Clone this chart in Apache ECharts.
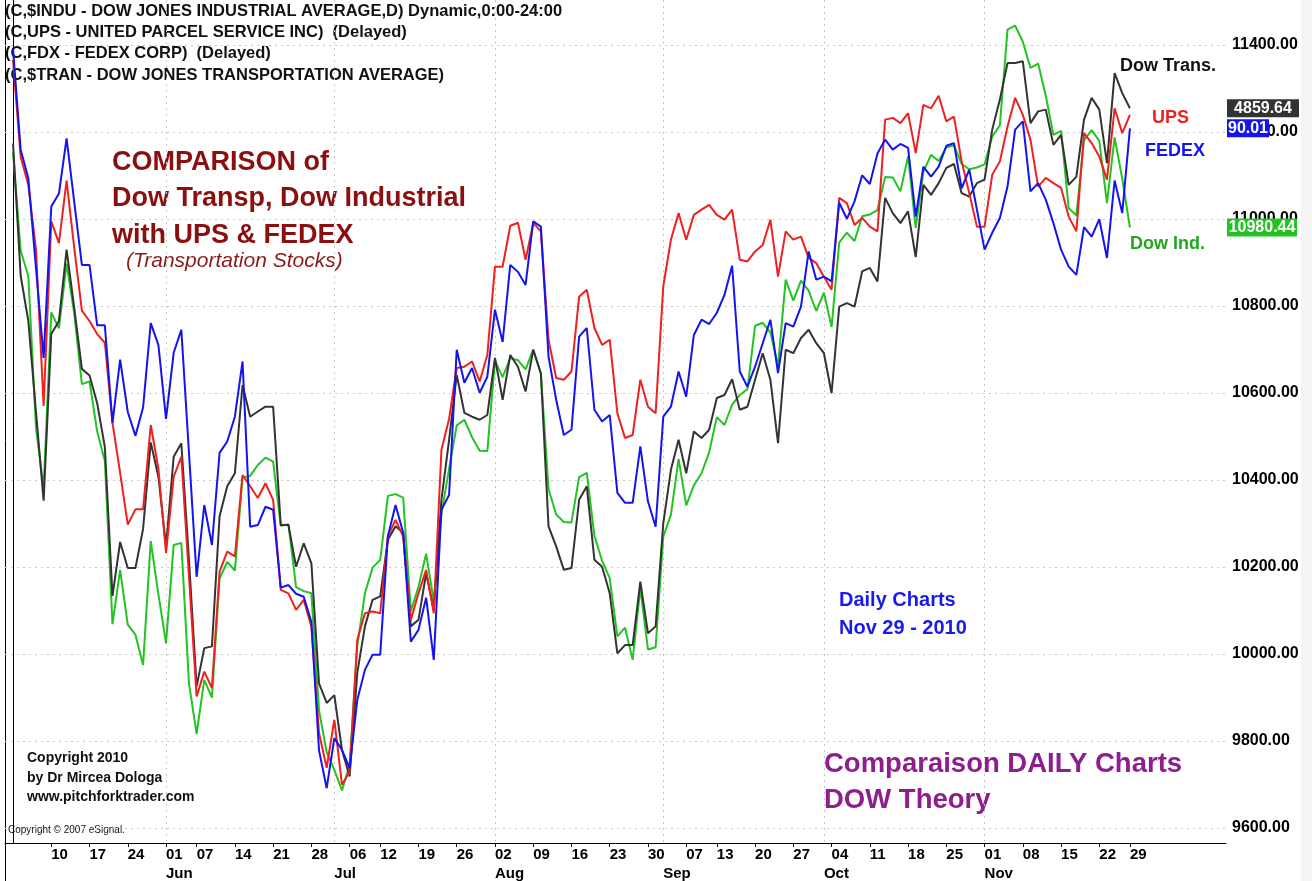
<!DOCTYPE html>
<html>
<head>
<meta charset="utf-8">
<title>Comparison of Dow Transp, Dow Industrial with UPS & FEDEX</title>
<script src="https://cdn.jsdelivr.net/npm/echarts@6/dist/echarts.min.js"></script>
<style>
  html, body { margin: 0; padding: 0; background: #fff; }
  #chart { width: 1312px; height: 881px; }
</style>
</head>
<body>
<div id="chart"></div>
<script>
// trading days 2010 (MM-DD), May 3 .. Nov 29
const dates = [
  "05-03","05-04","05-05","05-06","05-07","05-10","05-11","05-12","05-13","05-14",
  "05-17","05-18","05-19","05-20","05-21","05-24","05-25","05-26","05-27","05-28",
  "06-01","06-02","06-03","06-04","06-07","06-08","06-09","06-10","06-11","06-14",
  "06-15","06-16","06-17","06-18","06-21","06-22","06-23","06-24","06-25","06-28",
  "06-29","06-30","07-01","07-02","07-06","07-07","07-08","07-09","07-12","07-13",
  "07-14","07-15","07-16","07-19","07-20","07-21","07-22","07-23","07-26","07-27",
  "07-28","07-29","07-30","08-02","08-03","08-04","08-05","08-06","08-09","08-10",
  "08-11","08-12","08-13","08-16","08-17","08-18","08-19","08-20","08-23","08-24",
  "08-25","08-26","08-27","08-30","08-31","09-01","09-02","09-03","09-07","09-08",
  "09-09","09-10","09-13","09-14","09-15","09-16","09-17","09-20","09-21","09-22",
  "09-23","09-24","09-27","09-28","09-29","09-30","10-01","10-04","10-05","10-06",
  "10-07","10-08","10-11","10-12","10-13","10-14","10-15","10-18","10-19","10-20",
  "10-21","10-22","10-25","10-26","10-27","10-28","10-29","11-01","11-02","11-03",
  "11-04","11-05","11-08","11-09","11-10","11-11","11-12","11-15","11-16","11-17",
  "11-18","11-19","11-22","11-23","11-24","11-26","11-29"
];

// bottom axis labels
const weekTicks = [
  "05-10","05-17","05-24","06-01","06-07","06-14","06-21","06-28","07-06","07-12",
  "07-19","07-26","08-02","08-09","08-16","08-23","08-30","09-07","09-13","09-20",
  "09-27","10-04","10-11","10-18","10-25","11-01","11-08","11-15","11-22","11-29"
];
const monthTicks = ["06-01","07-01","08-02","09-01","10-01","11-01"];
const monthNames = ["Jun","Jul","Aug","Sep","Oct","Nov"];
const yTicks = [9600, 9800, 10000, 10200, 10400, 10600, 10800, 11000, 11200, 11400];

// all four lines on the Dow Industrial price scale
const dowInd = [
  11152,10927,10868,10520,10380,10785,10748,10897,10783,10620,
  10626,10511,10444,10068,10193,10067,10044,9974,10259,10137,
  10024,10250,10255,9932,9816,9940,9899,10173,10211,10191,
  10405,10409,10434,10451,10442,10294,10298,10153,10144,10139,
  9870,9774,9733,9686,9744,10018,10139,10198,10216,10363,
  10367,10359,10098,10154,10230,10121,10322,10425,10525,10538,
  10498,10467,10466,10674,10636,10680,10675,10654,10699,10644,
  10379,10320,10303,10302,10406,10416,10271,10214,10174,10040,
  10060,9986,10151,10010,10015,10269,10320,10448,10341,10387,
  10415,10463,10544,10526,10573,10595,10608,10754,10761,10739,
  10662,10860,10812,10858,10835,10788,10830,10751,10945,10968,
  10949,11006,11010,11020,11096,11095,11063,11144,10979,11108,
  11147,11133,11164,11169,11126,11114,11118,11125,11189,11215,
  11435,11444,11407,11347,11357,11283,11193,11202,11024,11008,
  11181,11204,11179,11036,11187,11092,10980
];
const dowTrans = [
  11173,10869,10765,10556,10352,10735,10765,10929,10795,10655,
  10640,10576,10476,10133,10257,10197,10197,10287,10486,10407,
  10247,10453,10484,10216,9925,10013,10017,10316,10385,10415,
  10618,10545,10557,10568,10568,10296,10296,10200,10254,10208,
  9932,9887,9905,9779,9718,9956,10063,10124,10132,10262,
  10293,10278,10063,10078,10185,10101,10354,10492,10641,10554,
  10545,10538,10549,10680,10584,10687,10660,10603,10699,10645,
  10293,10247,10193,10197,10354,10385,10216,10200,10139,10001,
  10020,10020,10166,10047,10063,10300,10423,10492,10415,10511,
  10496,10515,10588,10595,10631,10561,10568,10630,10691,10630,
  10484,10699,10691,10726,10745,10714,10691,10599,10798,10806,
  10798,10879,10887,10856,11048,11013,10990,11017,10912,11078,
  11055,11082,11117,11126,11059,11051,11082,11090,11205,11274,
  11358,11358,11362,11220,11247,11251,11170,11193,11078,11097,
  11228,11278,11251,11128,11335,11289,11254
];
const ups = [
  11365,11142,11078,10929,10570,10994,10944,11088,10933,10789,
  10765,10735,10715,10531,10416,10297,10332,10332,10526,10426,
  10232,10407,10453,10178,9902,9959,9921,10189,10235,10224,
  10411,10385,10358,10392,10354,10147,10139,10101,10124,10062,
  9818,9738,9848,9699,9729,10032,10093,10097,10093,10270,
  10308,10270,10078,10139,10193,10093,10469,10540,10657,10660,
  10672,10626,10687,10890,10890,10984,10991,10906,10990,10971,
  10722,10634,10630,10649,10821,10837,10749,10710,10722,10553,
  10496,10503,10630,10568,10553,10845,10952,11013,10952,11009,
  11021,11032,11009,10998,11021,10906,10902,10925,10940,10998,
  10867,10971,10952,10959,10910,10898,10867,10837,11048,11036,
  10986,11002,10982,10971,11228,11232,11220,11243,11151,11262,
  11254,11283,11224,11235,11132,11059,10982,10982,11101,11132,
  11212,11278,11239,11182,11074,11094,11082,11071,11005,10971,
  11197,11174,11143,11090,11254,11197,11239
];
const fdx = [
  11390,11159,11093,10887,10680,11028,11058,11185,11039,10894,
  10894,10755,10755,10531,10676,10556,10501,10566,10760,10710,
  10540,10692,10745,10462,10177,10342,10250,10462,10488,10545,
  10672,10292,10296,10338,10331,10152,10158,10138,10131,10073,
  9778,9691,9806,9779,9737,9894,9963,9998,9998,10270,
  10342,10278,10028,10055,10129,9986,10331,10365,10699,10623,
  10657,10600,10637,10791,10717,10894,10878,10848,10994,10982,
  10683,10584,10503,10515,10729,10749,10561,10534,10549,10370,
  10347,10347,10477,10350,10292,10545,10568,10649,10591,10733,
  10768,10758,10784,10825,10892,10649,10614,10660,10714,10768,
  10645,10760,10752,10798,10925,10860,10867,10856,11037,11000,
  11040,11100,11080,11150,11182,11159,11172,11163,11005,11120,
  11097,11120,11168,11174,11070,11113,11021,10929,10968,11002,
  11074,11205,11224,11063,11082,11044,10990,10929,10890,10871,
  10981,10959,10999,10910,11088,11013,11208
];

// last quotes shown in the price boxes on the right axis
const quoteTrans = "4859.64";
const quoteFdx = "90.01";
const quoteIndu = "10980.44";

const FONT = '"Liberation Sans", Arial, Helvetica, sans-serif';
const xMin = -1.05;
const xMax = 158.56;
const weekPos = weekTicks.map(d => dates.indexOf(d));
const monthPos = monthTicks.map(d => dates.indexOf(d));

function priceBox(text, value, color, width) {
  return {
    symbol: "rect",
    symbolSize: [width, 18],
    symbolOffset: [width / 2 + 1, 0],
    silent: true,
    itemStyle: { color: color },
    label: {
      show: true, position: "inside", formatter: text,
      color: "#fff", fontSize: 16, fontWeight: "bold", fontFamily: FONT
    },
    data: [{ coord: [xMax, value] }]
  };
}

function lineSeries(name, values, color, box) {
  const s = {
    name: name,
    type: "line",
    data: values.map((v, i) => [i, v]),
    symbol: "none",
    showSymbol: false,
    silent: true,
    lineStyle: { color: color, width: 2 },
    itemStyle: { color: color }
  };
  if (box) s.markPoint = box;
  return s;
}

function txt(x, y, text, font, fill) {
  return {
    type: "text", x: x, y: y, silent: true,
    style: { text: text, font: font, fill: fill, verticalAlign: "middle" }
  };
}

const myChart = echarts.init(document.getElementById("chart"));

const option = {
  animation: false,
  backgroundColor: "#fff",
  grid: { left: 5, right: 86, top: 0, bottom: 38, containLabel: false, outerBoundsMode: "none" },
  xAxis: [
    {
      type: "value", min: xMin, max: xMax, position: "bottom",
      axisLine: { show: true, onZero: false, lineStyle: { color: "#000", width: 1 } },
      axisTick: { show: true, customValues: weekPos, length: 4, lineStyle: { color: "#000" } },
      axisLabel: {
        customValues: weekPos,
        formatter: v => dates[Math.round(v)].slice(3),
        align: "left", margin: 4, color: "#000",
        fontSize: 15, fontWeight: "bold", fontFamily: FONT
      },
      splitLine: { show: false }
    },
    {
      type: "value", min: xMin, max: xMax, position: "bottom", offset: 19,
      axisLine: { show: false },
      axisTick: { show: false, customValues: monthPos },
      axisLabel: {
        customValues: monthPos,
        formatter: v => monthNames[monthPos.indexOf(Math.round(v))],
        align: "left", margin: 4, color: "#000",
        fontSize: 15, fontWeight: "bold", fontFamily: FONT
      },
      splitLine: { show: true, lineStyle: { color: "#c8c8c8", type: [2, 4] } }
    }
  ],
  yAxis: {
    type: "value", position: "right", min: 9565, max: 11503,
    axisLine: { show: true, lineStyle: { color: "#000" } },
    axisTick: { show: false, customValues: yTicks },
    axisLabel: {
      customValues: yTicks,
      formatter: v => v.toFixed(2),
      margin: 6, color: "#000",
      fontSize: 16, fontWeight: "bold", fontFamily: FONT
    },
    splitLine: { show: true, lineStyle: { color: "#c8c8c8", type: [2, 4] } }
  },
  series: [
    lineSeries("Dow Ind.", dowInd, "#22c322", priceBox(quoteIndu, dowInd[dowInd.length - 1], "#22c322", 70)),
    lineSeries("Dow Trans.", dowTrans, "#333333", priceBox(quoteTrans, dowTrans[dowTrans.length - 1], "#333333", 72)),
    lineSeries("UPS", ups, "#ee2020", null),
    lineSeries("FEDEX", fdx, "#1414ee", priceBox(quoteFdx, fdx[fdx.length - 1], "#1414ee", 42))
  ],
  graphic: [
    { type: "rect", silent: true, shape: { x: 1301, y: 0, width: 11, height: 881 }, style: { fill: "#f4f4f4" }, z: -1 },
    { type: "line", silent: true, shape: { x1: 5.5, y1: 0, x2: 5.5, y2: 881 }, style: { stroke: "#000", lineWidth: 1 } },

    txt(5, 11, "(C,$INDU - DOW JONES INDUSTRIAL AVERAGE,D) Dynamic,0:00-24:00", "bold 16.5px " + FONT, "#111"),
    txt(5, 32, "(C,UPS - UNITED PARCEL SERVICE INC)  (Delayed)", "bold 16.5px " + FONT, "#111"),
    txt(5, 53, "(C,FDX - FEDEX CORP)  (Delayed)", "bold 16.5px " + FONT, "#111"),
    txt(5, 75, "(C,$TRAN - DOW JONES TRANSPORTATION AVERAGE)", "bold 16.5px " + FONT, "#111"),

    txt(112, 163, "COMPARISON of", "bold 27px " + FONT, "#8b0f0f"),
    txt(112, 199, "Dow Transp, Dow Industrial", "bold 27px " + FONT, "#8b0f0f"),
    txt(112, 236, "with UPS & FEDEX", "bold 27px " + FONT, "#8b0f0f"),
    txt(126, 261, "(Transportation Stocks)", "italic 21px " + FONT, "#8b1a1a"),

    txt(1120, 66, "Dow Trans.", "bold 18px " + FONT, "#111"),
    txt(1152, 118, "UPS", "bold 18px " + FONT, "#ee2020"),
    txt(1145, 151, "FEDEX", "bold 18px " + FONT, "#1414ee"),
    txt(1130, 244, "Dow Ind.", "bold 18px " + FONT, "#22a622"),

    txt(839, 600, "Daily Charts", "bold 20px " + FONT, "#1a1aee"),
    txt(839, 628, "Nov 29 - 2010", "bold 20px " + FONT, "#1a1aee"),

    txt(27, 758, "Copyright 2010", "bold 14px " + FONT, "#111"),
    txt(27, 778, "by Dr Mircea Dologa", "bold 14px " + FONT, "#111"),
    txt(27, 797, "www.pitchforktrader.com", "bold 14px " + FONT, "#111"),
    txt(8, 830, "Copyright \u00a9 2007 eSignal.", "10px " + FONT, "#111"),

    txt(824, 764, "Comparaison DAILY Charts", "bold 27.5px " + FONT, "#8e1e8e"),
    txt(824, 800, "DOW Theory", "bold 27.5px " + FONT, "#8e1e8e")
  ]
};

myChart.setOption(option, true);
window.addEventListener("resize", () => myChart.resize());
</script>
</body>
</html>
